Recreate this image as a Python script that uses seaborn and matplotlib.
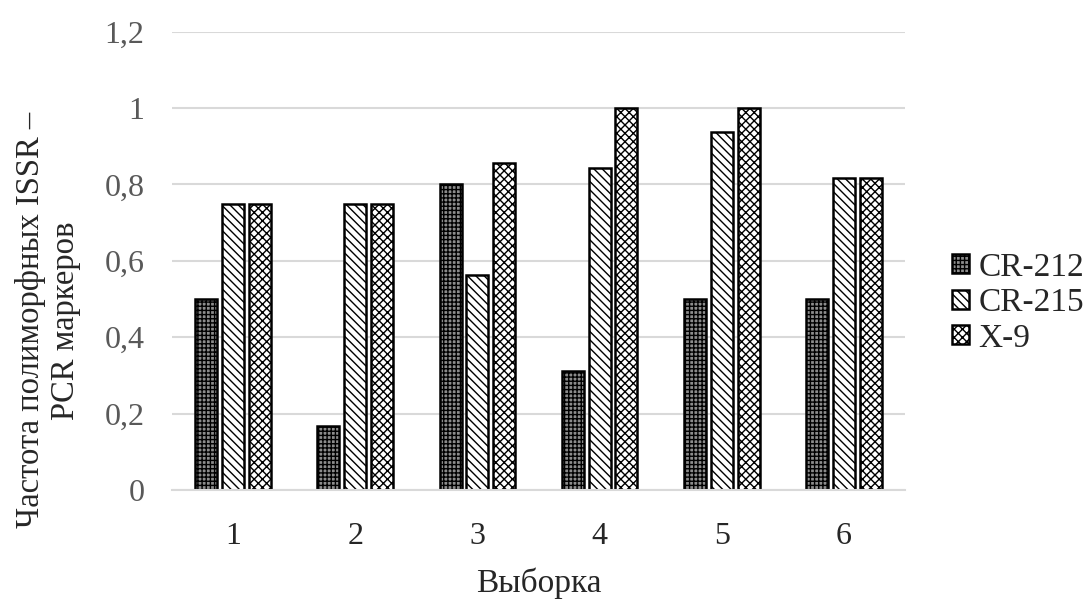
import pandas as pd
import matplotlib.pyplot as plt
import matplotlib.ticker as mticker
import seaborn as sns

# --- Dados ---
vyborka = ['1', '2', '3', '4', '5', '6']
cr212 = [0.5, 0.167, 0.8, 0.3125, 0.5, 0.5]
cr215 = [0.75, 0.75, 0.5625, 0.844, 0.9375, 0.818]
x9 = [0.75, 0.75, 0.857, 1.0, 1.0, 0.818]
series = ['CR-212', 'CR-215', 'X-9']

df = pd.DataFrame({
    'Выборка': vyborka * 3,
    'Частота': cr212 + cr215 + x9,
    'Линия': [s for s in series for _ in vyborka],
})

# --- Estilo ---
sns.set_theme(style="white")
plt.rcParams['font.family'] = ['Liberation Serif', 'DejaVu Serif']
plt.rcParams['hatch.linewidth'] = 1.0

fig = plt.figure(figsize=(10.89, 5.99), dpi=100)
ax = fig.add_axes([0.158, 0.182, 0.673, 0.765])

ax = sns.barplot(
    data=df, x='Выборка', y='Частота', hue='Линия',
    palette=['#8c8c8c', 'white', 'white'],
    width=0.66, gap=0.18, edgecolor='black', linewidth=1.8, ax=ax,
)

# Hachuras por série (cada container é uma série)
hatches = ['++++', '\\\\\\\\', 'xxxx']
for cont, h in zip(ax.containers, hatches):
    for bar in cont:
        bar.set_hatch(h)

ax.set_ylim(0, 1.2)
ax.set_yticks([0, 0.2, 0.4, 0.6, 0.8, 1.0, 1.2])
ax.yaxis.set_major_formatter(mticker.FuncFormatter(
    lambda v, p: ('%g' % round(v, 1)).replace('.', ',')))
ax.grid(axis='y', color='#d9d9d9', linewidth=1.5)
ax.set_axisbelow(True)
for s in ['top', 'right', 'left']:
    ax.spines[s].set_visible(False)
ax.spines['bottom'].set_color('#d9d9d9')
ax.spines['bottom'].set_linewidth(1.5)
ax.tick_params(axis='y', length=0, labelsize=23, labelcolor='#595959', pad=20)
ax.tick_params(axis='x', length=0, labelsize=23, labelcolor='#262626', pad=23)

ax.set_xlabel('Выборка', fontsize=24, color='#262626', labelpad=12)
ax.set_ylabel('Частота полиморфных ISSR –\nPCR маркеров', fontsize=23.5,
              color='#262626', linespacing=1.2)
# Rótulo do eixo y fica um pouco abaixo do centro, como no original
ax.yaxis.set_label_coords(-0.124, 0.37)

# Legenda à direita, sem moldura
leg = ax.legend(loc='center left', bbox_to_anchor=(1.046, 0.408), frameon=False,
                fontsize=24, handlelength=0.5, handleheight=0.5,
                handletextpad=0.3, labelspacing=0.15, borderaxespad=0)
for h, hatch in zip(leg.legend_handles, hatches):
    h.set_hatch(hatch)
    h.set_edgecolor('black')
for t in leg.get_texts():
    t.set_color('#262626')

plt.savefig('out.png', dpi=100)
